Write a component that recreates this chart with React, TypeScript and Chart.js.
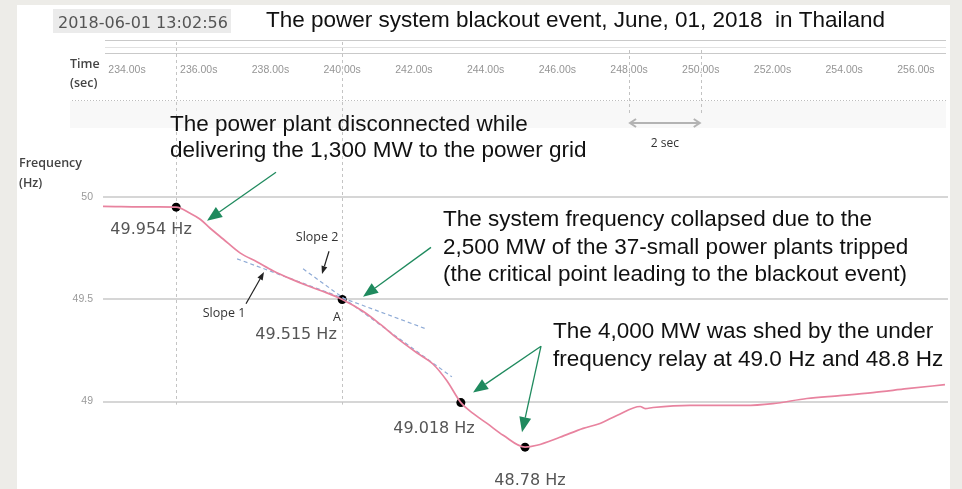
import React, { useEffect, useRef } from "react";
import { Chart, registerables } from "chart.js";
Chart.register(...registerables);

// ---- data (time in s, frequency in Hz) ----
const times = [233.33, 234.84, 235.37, 235.76, 236.04, 236.31, 236.68, 237.15, 237.63, 238.07, 238.55, 239.02, 239.47, 240.0, 240.58, 241.06, 241.53, 242.09, 242.53, 242.92, 243.31, 243.65, 244.04, 244.49, 245.10, 245.43, 246.07, 246.72, 247.19, 247.66, 248.31, 248.45, 248.67, 249.70, 251.23, 252.01, 252.96, 253.88, 254.80, 255.75, 256.81];
const freqs = [49.956, 49.953, 49.952, 49.922, 49.893, 49.850, 49.796, 49.728, 49.684, 49.641, 49.602, 49.568, 49.539, 49.5, 49.442, 49.379, 49.311, 49.238, 49.184, 49.102, 48.995, 48.942, 48.893, 48.835, 48.777, 48.786, 48.825, 48.869, 48.893, 48.932, 48.976, 48.966, 48.971, 48.981, 48.981, 48.990, 49.015, 49.029, 49.044, 49.063, 49.083];

const dotTimes = [235.37, 240.0, 243.31, 245.10];
const dotFreqs = [49.952, 49.5, 48.995, 48.777];

const slope1Times = [237.07, 242.37];
const slope1Freqs = [49.699, 49.354];
const slope2Times = [238.91, 243.06];
const slope2Freqs = [49.650, 49.121];

const timeTicks = [234, 236, 238, 240, 242, 244, 246, 248, 250, 252, 254, 256];
const freqTicks = [49, 49.5, 50];

const markerTimes = [235.37, 240.0];
const spanTimes = [248, 250];

const xMin = 233.33;
const xMax = 256.895;
const yMin = 48.594;
const yMax = 50.555;

const titleText = "The power system blackout event, June, 01, 2018  in Thailand";
const stampText = "2018-06-01 13:02:56";

// text annotations anchored in data coordinates
const bigTexts = [
  { t: 235.199, f: 50.327, s: "The power plant disconnected while" },
  { t: 235.199, f: 50.198, s: "delivering the 1,300 MW to the power grid" },
  { t: 242.812, f: 49.860, s: "The system frequency collapsed due to the" },
  { t: 242.812, f: 49.725, s: "2,500 MW of the 37-small power plants tripped" },
  { t: 242.812, f: 49.592, s: "(the critical point leading to the blackout event)" },
  { t: 245.879, f: 49.310, s: "The 4,000 MW was shed by the under" },
  { t: 245.879, f: 49.176, s: "frequency relay at 49.0 Hz and 48.8 Hz" },
];
const valueLabels = [
  { t: 234.67, f: 49.843, s: "49.954 Hz" },
  { t: 238.713, f: 49.326, s: "49.515 Hz" },
  { t: 242.561, f: 48.867, s: "49.018 Hz" },
  { t: 245.238, f: 48.614, s: "48.78 Hz" },
];
const smallLabels = [
  { t: 239.30, f: 49.806, s: "Slope 2" },
  { t: 236.705, f: 49.431, s: "Slope 1" },
  { t: 239.856, f: 49.412, s: "A" },
];
const greenArrows = [
  { t1: 238.155, f1: 50.123, t2: 236.231, f2: 49.886 },
  { t1: 242.477, f1: 49.755, t2: 240.581, f2: 49.513 },
  { t1: 245.545, f1: 49.271, t2: 243.649, f2: 49.044 },
  { t1: 245.545, f1: 49.271, t2: 245.015, f2: 48.850 },
];
const blackArrows = [
  { t1: 239.633, f1: 49.736, t2: 239.438, f2: 49.625 },
  { t1: 237.318, f1: 49.479, t2: 237.820, f2: 49.634 },
];

function arrow(ctx: CanvasRenderingContext2D, x1: number, y1: number, x2: number, y2: number, color: string, width: number, hl: number, hw: number) {
  const a = Math.atan2(y2 - y1, x2 - x1);
  const bx = x2 - hl * Math.cos(a);
  const by = y2 - hl * Math.sin(a);
  ctx.strokeStyle = color;
  ctx.lineWidth = width;
  ctx.setLineDash([]);
  ctx.beginPath();
  ctx.moveTo(x1, y1);
  ctx.lineTo(bx, by);
  ctx.stroke();
  ctx.fillStyle = color;
  ctx.beginPath();
  ctx.moveTo(x2, y2);
  ctx.lineTo(bx + (hw / 2) * Math.sin(a), by - (hw / 2) * Math.cos(a));
  ctx.lineTo(bx - (hw / 2) * Math.sin(a), by + (hw / 2) * Math.cos(a));
  ctx.closePath();
  ctx.fill();
}

const deco = {
  id: "deco",
  beforeDraw(chart: any) {
    const ctx: CanvasRenderingContext2D = chart.ctx;
    const xs = chart.scales.x;
    ctx.save();
    ctx.fillStyle = "#edece8";
    ctx.fillRect(0, 0, chart.width, chart.height);
    ctx.fillStyle = "#ffffff";
    ctx.fillRect(17, 5, 933, chart.height - 5);
    // light band under top axis
    ctx.fillStyle = "#f8f8f8";
    ctx.fillRect(70, 101, 876, 27);
    // timestamp box
    ctx.fillStyle = "#ebebeb";
    ctx.fillRect(53, 9, 178, 24);
    ctx.fillStyle = "#555";
    ctx.font = '16px "DejaVu Sans"';
    ctx.textBaseline = "alphabetic";
    ctx.textAlign = "left";
    ctx.fillText(stampText, 58, 28);
    // title
    ctx.fillStyle = "#111";
    ctx.font = '22.5px "Liberation Sans"';
    ctx.fillText(titleText, 266, 27);
    // top axis lines
    ctx.strokeStyle = "#c9c9c9";
    ctx.lineWidth = 1.2;
    ctx.beginPath();
    ctx.moveTo(105, 40.5); ctx.lineTo(946, 40.5);
    ctx.moveTo(105, 53.5); ctx.lineTo(946, 53.5);
    ctx.stroke();
    ctx.strokeStyle = "#e2e2e2";
    ctx.beginPath();
    ctx.moveTo(105, 47.5); ctx.lineTo(946, 47.5);
    ctx.stroke();
    // dotted separator
    ctx.strokeStyle = "#bdbdbd";
    ctx.lineWidth = 1;
    ctx.setLineDash([1, 2]);
    ctx.beginPath();
    ctx.moveTo(72, 100.5); ctx.lineTo(946, 100.5);
    ctx.stroke();
    // axis titles
    ctx.setLineDash([]);
    ctx.fillStyle = "#444";
    ctx.font = '600 12.5px "Open Sans"';
    ctx.fillText("Time", 70, 68);
    ctx.fillText("(sec)", 70, 87);
    ctx.fillText("Frequency", 19, 167);
    ctx.fillText("(Hz)", 19, 187);
    // 2 sec span markers
    ctx.strokeStyle = "#c2c2c2";
    ctx.lineWidth = 1;
    ctx.setLineDash([3, 3]);
    const sx = spanTimes.map((v) => xs.getPixelForValue(v));
    ctx.beginPath();
    sx.forEach((x) => { ctx.moveTo(Math.round(x) + 0.5, 50); ctx.lineTo(Math.round(x) + 0.5, 116); });
    ctx.stroke();
    ctx.setLineDash([]);
    ctx.strokeStyle = "#b3b3b3";
    ctx.lineWidth = 2;
    const ay = 123;
    ctx.beginPath();
    ctx.moveTo(sx[0] + 1, ay); ctx.lineTo(sx[1] - 1, ay);
    ctx.moveTo(sx[0] + 7, ay - 4); ctx.lineTo(sx[0] + 1, ay); ctx.lineTo(sx[0] + 7, ay + 4);
    ctx.moveTo(sx[1] - 7, ay - 4); ctx.lineTo(sx[1] - 1, ay); ctx.lineTo(sx[1] - 7, ay + 4);
    ctx.stroke();
    ctx.fillStyle = "#333";
    ctx.font = '12px "Open Sans"';
    ctx.textAlign = "center";
    ctx.fillText("2 sec", (sx[0] + sx[1]) / 2, 147);
    ctx.restore();
  },
  beforeDatasetsDraw(chart: any) {
    const ctx: CanvasRenderingContext2D = chart.ctx;
    const xs = chart.scales.x;
    const ys = chart.scales.y;
    ctx.save();
    ctx.strokeStyle = "#c4c4c4";
    ctx.lineWidth = 1;
    ctx.setLineDash([3, 3]);
    ctx.beginPath();
    markerTimes.forEach((t) => {
      const x = Math.round(xs.getPixelForValue(t)) + 0.5;
      ctx.moveTo(x, 42);
      ctx.lineTo(x, ys.getPixelForValue(48.985));
    });
    ctx.stroke();
    ctx.restore();
  },
  afterDatasetsDraw(chart: any) {
    const ctx: CanvasRenderingContext2D = chart.ctx;
    const xs = chart.scales.x;
    const ys = chart.scales.y;
    const P = (t: number, f: number) => [xs.getPixelForValue(t), ys.getPixelForValue(f)];
    ctx.save();
    greenArrows.forEach((a) => {
      const [x1, y1] = P(a.t1, a.f1);
      const [x2, y2] = P(a.t2, a.f2);
      arrow(ctx, x1, y1, x2, y2, "#1f8a5e", 1.3, 15, 12);
    });
    blackArrows.forEach((a) => {
      const [x1, y1] = P(a.t1, a.f1);
      const [x2, y2] = P(a.t2, a.f2);
      arrow(ctx, x1, y1, x2, y2, "#222", 1.2, 8, 6);
    });
    ctx.fillStyle = "#111";
    ctx.font = '22.5px "Liberation Sans"';
    ctx.textAlign = "left";
    ctx.textBaseline = "alphabetic";
    bigTexts.forEach((b) => {
      const [x, y] = P(b.t, b.f);
      ctx.fillText(b.s, x, y);
    });
    ctx.fillStyle = "#555";
    ctx.font = '16px "DejaVu Sans"';
    ctx.textAlign = "center";
    ctx.textBaseline = "middle";
    valueLabels.forEach((b) => {
      const [x, y] = P(b.t, b.f);
      ctx.fillText(b.s, x, y);
    });
    ctx.fillStyle = "#333";
    ctx.font = '12.5px "Open Sans"';
    smallLabels.forEach((b) => {
      const [x, y] = P(b.t, b.f);
      ctx.fillText(b.s, x, y);
    });
    ctx.restore();
  },
};

const tickFont = { family: "'Liberation Sans'", size: 10.5 };

export default function App() {
  const ref = useRef<HTMLCanvasElement>(null);
  useEffect(() => {
    const chart = new Chart(ref.current as HTMLCanvasElement, {
      type: "line",
      data: {
        datasets: [
          {
            label: "Frequency",
            data: times.map((t, i) => ({ x: t, y: freqs[i] })),
            borderColor: "#e8839f",
            borderWidth: 1.7,
            pointRadius: 0,
            cubicInterpolationMode: "monotone",
            fill: false,
          },
          {
            label: "Slope 1",
            data: slope1Times.map((t, i) => ({ x: t, y: slope1Freqs[i] })),
            borderColor: "#8fabd6",
            borderWidth: 1.2,
            borderDash: [4, 3],
            pointRadius: 0,
            fill: false,
          },
          {
            label: "Slope 2",
            data: slope2Times.map((t, i) => ({ x: t, y: slope2Freqs[i] })),
            borderColor: "#8fabd6",
            borderWidth: 1.2,
            borderDash: [4, 3],
            pointRadius: 0,
            fill: false,
          },
          {
            label: "Points",
            data: dotTimes.map((t, i) => ({ x: t, y: dotFreqs[i] })),
            showLine: false,
            pointRadius: 4.5,
            pointBackgroundColor: "#000",
            pointBorderColor: "#000",
            borderWidth: 0,
          },
        ],
      },
      options: {
        animation: false,
        responsive: false,
        layout: { padding: { left: 0, right: 14, top: 0, bottom: 0 } },
        plugins: { legend: { display: false }, tooltip: { enabled: false } },
        scales: {
          x: { type: "linear", display: false, min: xMin, max: xMax },
          x2: {
            type: "linear",
            position: "top",
            min: xMin,
            max: xMax,
            afterBuildTicks: (s: any) => { s.ticks = timeTicks.map((v) => ({ value: v })); },
            afterFit: (s: any) => { s.height = 84; s.paddingLeft = 0; s.paddingRight = 0; },
            grid: { display: false, drawTicks: false },
            border: { display: false },
            ticks: {
              autoSkip: false,
              maxRotation: 0,
              padding: 8,
              color: "#959595",
              font: tickFont,
              callback: (v: any) => Number(v).toFixed(2) + "s",
            },
          },
          y: {
            type: "linear",
            min: yMin,
            max: yMax,
            afterBuildTicks: (s: any) => { s.ticks = freqTicks.map((v) => ({ value: v })); },
            afterFit: (s: any) => { s.width = 103; s.paddingTop = 0; s.paddingBottom = 0; },
            grid: { color: "#d6d6d6", lineWidth: 2, drawTicks: false },
            border: { display: false },
            ticks: {
              padding: 10,
              color: "#9a9a9a",
              font: tickFont,
              callback: (v: any) => String(v),
            },
          },
        },
      } as any,
      plugins: [deco],
    });
    return () => chart.destroy();
  }, []);
  return (
    <div style={{ position: "fixed", left: 0, top: 0, width: 962, height: 489 }}>
      <canvas ref={ref} width={962} height={489} style={{ display: "block", width: 962, height: 489 }} />
    </div>
  );
}
